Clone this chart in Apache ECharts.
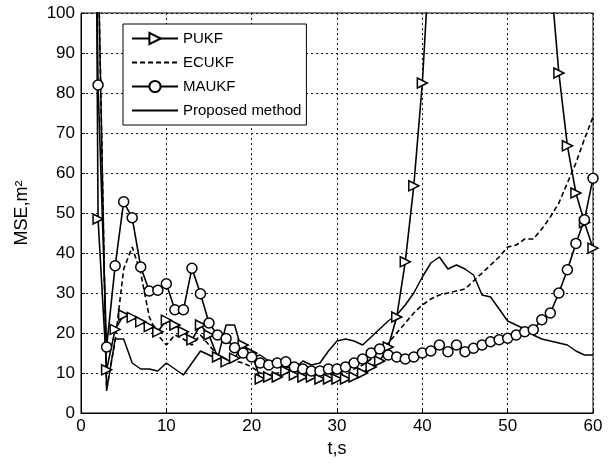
<!DOCTYPE html>
<html>
<head>
<meta charset="utf-8">
<script src="https://cdn.jsdelivr.net/npm/echarts@6/dist/echarts.min.js"></script>
<style>
html,body{margin:0;padding:0;background:#fff;}
#chart{width:608px;height:464px;}
</style>
</head>
<body>
<div id="chart"></div>
<script>
// time axis, 1 s samples
var t = [];
for (var i = 1; i <= 60; i++) t.push(i);

var pukf = [400, 48.5, 10.8, 20.9, 24.5, 23.9, 22.8, 21.6, 20.3, 23.2,
    22, 20.3, 18.3, 22, 19.5, 14, 12.8, 13.7, 17, 15,
    8.5, 9, 9, 10.5, 9.5, 9, 9, 8.5, 8.5, 8.5,
    8.5, 9, 10, 11.5, 13, 16.5, 24, 37.8, 56.8, 82.5,
    120, 170, 220, 260, 290, 310, 310, 290, 260, 220,
    180, 150, 130, 118, 110, 85, 66.8, 55, 47.6, 41.2];

var ecukf = [300, 115, 6, 18, 36, 41.5, 35, 24, 19.5, 17,
    19.5, 18.5, 17, 19.5, 17, 14.5, 13.5, 13, 12.5, 11.5,
    10, 9.5, 10, 10, 9.5, 9.5, 9.5, 9.5, 9.5, 10,
    10.5, 11, 12, 13.5, 15.5, 17.5, 20, 22.5, 25, 27,
    28.5, 29.5, 30, 30.5, 31, 33, 35, 37, 39, 41.5,
    42, 43.5, 43.5, 46, 49, 52.5, 57.5, 62.5, 68.5, 74];

var maukf = [260, 82, 16.5, 36.8, 52.8, 48.8, 36.5, 30.5, 30.7, 32.3,
    25.8, 25.8, 36.2, 29.8, 22.5, 19.5, 18.6, 16.3, 15, 14,
    12.5, 12, 12.5, 12.8, 11.5, 11, 10.5, 10.5, 11, 11,
    11.5, 12.5, 13.5, 15, 16, 14.5, 14, 13.5, 14, 15,
    15.5, 17, 15.3, 17, 15.3, 16.2, 17, 17.8, 18.3, 18.7,
    19.5, 20.3, 20.8, 23.3, 25, 30, 35.8, 42.4, 48.3, 58.7];

var proposed = [300, 115, 5.5, 18.5, 18.5, 12.5, 11, 11, 10.5, 12.5,
    11, 9.5, 12.5, 15.5, 14.5, 13.5, 22, 22, 14.5, 14,
    14.5, 13, 12, 11.5, 11, 13, 12, 12.5, 15.5, 18,
    18.5, 18, 17, 19, 21, 23, 24.5, 27, 30, 34,
    37.5, 39, 36, 37, 36, 34.5, 29.5, 29, 26, 23,
    22, 21, 19.5, 18.5, 18, 17.5, 17, 15.5, 14.5, 14.5];

var names = ['PUKF', 'ECUKF', 'MAUKF', 'Proposed method'];

function pairs(arr) {
    return arr.map(function (v, k) { return [t[k], v]; });
}

var font = 'Liberation Sans, Arial, sans-serif';
var chart = echarts.init(document.getElementById('chart'));
chart.setOption({
    animation: false,
    grid: {
        left: 81, right: 15, top: 13, bottom: 51,
        show: true, borderColor: '#000', borderWidth: 1
    },
    legend: {
        orient: 'vertical',
        left: 123, top: 24,
        data: [
            { name: names[0] },
            { name: names[1], itemStyle: { opacity: 0 } },
            { name: names[2] },
            { name: names[3], itemStyle: { opacity: 0 } }
        ],
        itemWidth: 46, itemHeight: 14,
        itemGap: 9,
        padding: [7, 5, 7, 8],
        backgroundColor: '#fff',
        borderColor: '#000', borderWidth: 1,
        textStyle: { fontFamily: font, fontSize: 15, color: '#000' }
    },
    xAxis: {
        type: 'value', min: 0, max: 60, interval: 10,
        name: 't,s', nameLocation: 'middle', nameGap: 24,
        nameTextStyle: { fontFamily: font, fontSize: 18, color: '#000' },
        axisLine: { lineStyle: { color: '#000' } },
        axisTick: { inside: true, length: 4, lineStyle: { color: '#000' } },
        axisLabel: { fontFamily: font, fontSize: 17, color: '#000', margin: 5 },
        splitLine: { show: true, lineStyle: { color: '#111', type: [2, 3], width: 1 } }
    },
    yAxis: {
        type: 'value', min: 0, max: 100, interval: 10,
        name: 'MSE,m²', nameLocation: 'middle', nameGap: 50,
        nameTextStyle: { fontFamily: font, fontSize: 18, color: '#000' },
        axisLine: { show: true, lineStyle: { color: '#000' } },
        axisTick: { show: true, inside: true, length: 4, lineStyle: { color: '#000' } },
        axisLabel: { fontFamily: font, fontSize: 17, color: '#000', margin: 6 },
        splitLine: { show: true, lineStyle: { color: '#111', type: [2, 3], width: 1 } }
    },
    series: [
        {
            name: names[0], type: 'line', data: pairs(pukf),
            symbol: 'triangle', symbolSize: 10, symbolRotate: -90,
            lineStyle: { color: '#000', width: 1.6 },
            itemStyle: { color: '#fff', borderColor: '#000', borderWidth: 1.5 },
            z: 4
        },
        {
            name: names[1], type: 'line', data: pairs(ecukf),
            symbol: 'none',
            lineStyle: { color: '#000', width: 1.6, type: [5, 3] },
            itemStyle: { color: '#000' },
            z: 3
        },
        {
            name: names[2], type: 'line', data: pairs(maukf),
            symbol: 'circle', symbolSize: 10,
            lineStyle: { color: '#000', width: 1.6 },
            itemStyle: { color: '#fff', borderColor: '#000', borderWidth: 1.5 },
            z: 5
        },
        {
            name: names[3], type: 'line', data: pairs(proposed),
            symbol: 'none',
            lineStyle: { color: '#000', width: 1.5 },
            itemStyle: { color: '#000' },
            z: 2
        }
    ]
});
</script>
</body>
</html>
